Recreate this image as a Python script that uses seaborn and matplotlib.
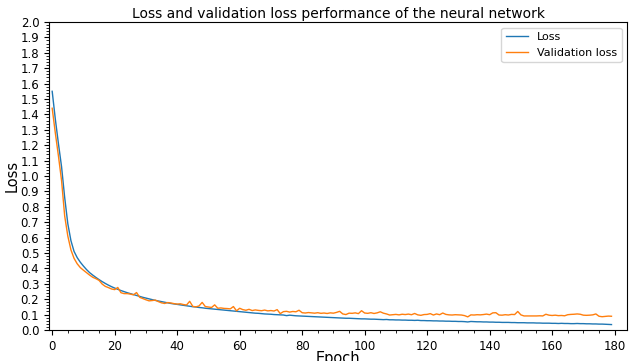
import numpy as np
import seaborn as sns
import matplotlib.pyplot as plt

# training history
loss = [
    1.55, 1.37, 1.21, 1.06, 0.86, 0.69, 0.58, 0.51, 0.47, 0.44,
    0.415, 0.392, 0.372, 0.356, 0.341, 0.327, 0.314, 0.302, 0.291, 0.281,
    0.272, 0.264, 0.256, 0.249, 0.242, 0.236, 0.230, 0.224, 0.218, 0.212,
    0.207, 0.202, 0.197, 0.192, 0.188, 0.184, 0.180, 0.176, 0.172, 0.169,
    0.166, 0.163, 0.160, 0.157, 0.154, 0.151, 0.149, 0.146, 0.144, 0.141,
    0.139, 0.137, 0.135, 0.133, 0.131, 0.129, 0.127, 0.125, 0.123, 0.121,
    0.119, 0.117, 0.115, 0.113, 0.111, 0.109, 0.108, 0.106, 0.104, 0.103,
    0.102, 0.100, 0.099, 0.098, 0.097, 0.093, 0.096, 0.094, 0.092, 0.091,
    0.090, 0.089, 0.088, 0.087, 0.086, 0.085, 0.084, 0.083, 0.082, 0.081,
    0.080, 0.079, 0.078, 0.077, 0.076, 0.076, 0.075, 0.074, 0.073, 0.072,
    0.072, 0.071, 0.070, 0.070, 0.069, 0.068, 0.067, 0.068, 0.066, 0.066,
    0.065, 0.065, 0.064, 0.064, 0.063, 0.063, 0.062, 0.063, 0.061, 0.061,
    0.060, 0.060, 0.059, 0.059, 0.058, 0.058, 0.057, 0.057, 0.056, 0.056,
    0.055, 0.055, 0.054, 0.052, 0.055, 0.054, 0.053, 0.053, 0.052, 0.052,
    0.051, 0.051, 0.050, 0.050, 0.049, 0.049, 0.049, 0.048, 0.048, 0.047,
    0.047, 0.047, 0.046, 0.046, 0.046, 0.045, 0.045, 0.044, 0.044, 0.044,
    0.043, 0.043, 0.042, 0.043, 0.042, 0.042, 0.041, 0.041, 0.042, 0.041,
    0.041, 0.040, 0.040, 0.039, 0.039, 0.038, 0.038, 0.037, 0.036, 0.035,
]

val_loss = [
    1.44, 1.28, 1.13, 0.97, 0.74, 0.61, 0.52, 0.465, 0.43, 0.405,
    0.388, 0.372, 0.356, 0.342, 0.333, 0.322, 0.298, 0.283, 0.275, 0.266,
    0.262, 0.276, 0.242, 0.236, 0.236, 0.233, 0.228, 0.243, 0.212, 0.204,
    0.196, 0.189, 0.191, 0.194, 0.184, 0.176, 0.172, 0.178, 0.175, 0.171,
    0.168, 0.170, 0.165, 0.162, 0.186, 0.153, 0.150, 0.156, 0.179, 0.152,
    0.149, 0.146, 0.163, 0.141, 0.143, 0.140, 0.139, 0.137, 0.152, 0.124,
    0.141, 0.132, 0.128, 0.134, 0.126, 0.130, 0.127, 0.125, 0.129, 0.124,
    0.126, 0.123, 0.132, 0.106, 0.119, 0.121, 0.116, 0.120, 0.118, 0.128,
    0.112, 0.110, 0.113, 0.111, 0.109, 0.112, 0.108, 0.110, 0.107, 0.111,
    0.109, 0.114, 0.121, 0.104, 0.100, 0.109, 0.108, 0.111, 0.106, 0.125,
    0.110, 0.108, 0.112, 0.107, 0.111, 0.118, 0.109, 0.104, 0.097, 0.099,
    0.101, 0.098, 0.102, 0.100, 0.103, 0.099, 0.107, 0.098, 0.095, 0.100,
    0.101, 0.106, 0.097, 0.104, 0.099, 0.110, 0.101, 0.098, 0.097, 0.099,
    0.098, 0.097, 0.093, 0.085, 0.098, 0.097, 0.099, 0.098, 0.100, 0.103,
    0.099, 0.111, 0.112, 0.097, 0.096, 0.099, 0.097, 0.101, 0.100, 0.120,
    0.098, 0.091, 0.091, 0.091, 0.091, 0.091, 0.092, 0.091, 0.102, 0.096,
    0.094, 0.096, 0.093, 0.094, 0.092, 0.099, 0.101, 0.102, 0.104, 0.102,
    0.096, 0.095, 0.096, 0.098, 0.104, 0.089, 0.086, 0.088, 0.090, 0.089,
]

epochs = np.arange(len(loss))
x_ticks = np.arange(0, 181, 20)
y_ticks = np.round(np.arange(0, 2.01, 0.1), 1)

fig = plt.figure(figsize=(6.29, 3.61), dpi=100)
ax = fig.add_axes([0.078, 0.086, 0.919, 0.853])

sns.lineplot(x=epochs, y=loss, color='tab:blue', linewidth=1, label='Loss', ax=ax)
sns.lineplot(x=epochs, y=val_loss, color='tab:orange', linewidth=1, label='Validation loss', ax=ax)

ax.set_xlim(-1, 184)
ax.set_ylim(0, 2.0)
ax.set_xticks(x_ticks)
ax.set_yticks(y_ticks)
ax.set_yticklabels([f'{t:.1f}' for t in y_ticks])
ax.minorticks_on()
ax.tick_params(labelsize=8.5)

ax.set_title('Loss and validation loss performance of the neural network', fontsize=10, pad=3)
ax.set_xlabel('Epoch', fontsize=10.5, labelpad=-1)
ax.set_ylabel('Loss', fontsize=10.5, labelpad=1)
ax.legend(loc='upper right', fontsize=8)

plt.savefig('out.png', dpi=100)
